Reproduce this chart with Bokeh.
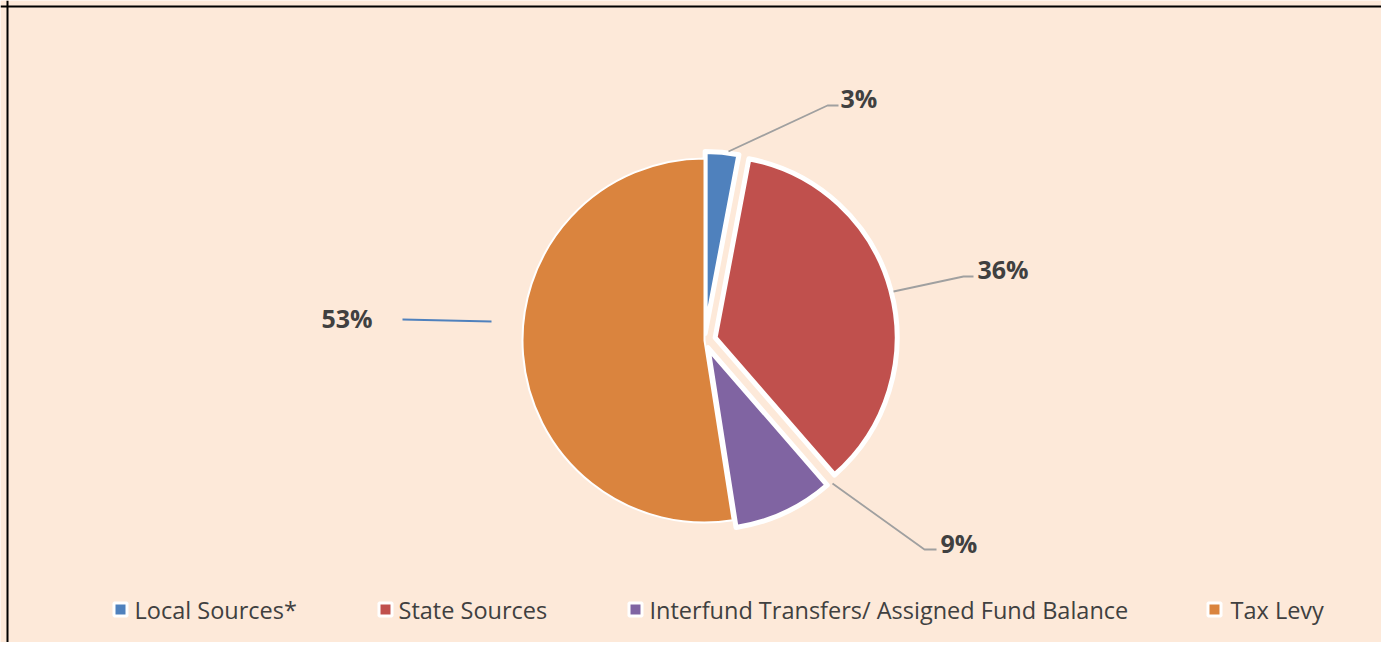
import math
from bokeh.plotting import figure
from bokeh.models import Range1d, Span, ColumnDataSource
from bokeh.core.properties import value
from bokeh.embed import file_html
from bokeh.resources import INLINE

# ---------------- data ----------------
categories = ["Local Sources*", "State Sources",
              "Interfund Transfers/ Assigned Fund Balance", "Tax Levy"]
values = [3, 36, 9, 53]
labels = ["3%", "36%", "9%", "53%"]
colors = ["#4F81BD", "#C0504D", "#8064A2", "#DA843E"]

# ---------------- layout ----------------
W, H = 1381, 642
BG = "#FDE9D9"


def px(X):
    return X


def py(Y):
    return H - Y


CX, CY, R = 704, 340, 182
explode = [7, 11, 8, 0]
edge_w = [5, 5, 5, 2]

label_x = [840, 977, 940, 321]
label_y = [97, 268, 542, 317]
leader_x = [[728, 827, 838], [893, 963, 973], [832, 924, 936], [402, 491]]
leader_y = [[151, 105, 105], [291, 276, 276], [483, 549, 549], [319, 321]]
leader_col = ["#A0A0A0", "#A0A0A0", "#A0A0A0", "#4F81BD"]

leg_sq_x = [120, 385, 635, 1214]
leg_txt_x = [134, 398, 649, 1230]
leg_y = 609

p = figure(width=W, height=H, output_backend="svg", toolbar_location=None,
           x_range=Range1d(0, W), y_range=Range1d(0, H), min_border=0)
p.axis.visible = False
p.grid.visible = False
p.outline_line_color = None
p.background_fill_color = BG
p.border_fill_color = BG

# ---------------- pie ----------------
total = float(sum(values))
cum = 0.0
wx, wy, sa, ea = [], [], [], []
for v, e in zip(values, explode):
    t1 = cum / total * 2 * math.pi
    t2 = (cum + v) / total * 2 * math.pi
    mid = (t1 + t2) / 2
    wx.append(px(CX) + math.sin(mid) * e)
    wy.append(py(CY) + math.cos(mid) * e)
    sa.append(math.pi / 2 - t2)
    ea.append(math.pi / 2 - t1)
    cum += v

src = ColumnDataSource(dict(x=wx, y=wy, sa=sa, ea=ea, c=colors, lw=edge_w, cat=categories))
p.wedge(x="x", y="y", radius=R, start_angle="sa", end_angle="ea", direction="anticlock",
        fill_color="c", line_color="white", line_width="lw", line_join="round", source=src)

# ---------------- leader lines & labels ----------------
p.multi_line(xs=[[px(a) for a in xs] for xs in leader_x],
             ys=[[py(b) for b in ys] for ys in leader_y],
             line_color=leader_col, line_width=1.8)
p.text(x=[px(a) for a in label_x], y=[py(b) for b in label_y], text=labels,
       text_font=value("Open Sans"), text_font_style="bold", text_font_size="25px",
       text_color="#404040", text_align="left", text_baseline="middle")

# ---------------- legend ----------------
p.rect(x=[px(a) for a in leg_sq_x], y=[py(leg_y)] * 4, width=13, height=13,
       fill_color=colors, line_color="white", line_width=3)
p.text(x=[px(a) for a in leg_txt_x], y=[py(leg_y)] * 4, text=categories,
       text_font=value("Open Sans"), text_font_size="23.5px",
       text_color="#404040", text_align="left", text_baseline="middle")

# ---------------- frame lines (left/top) ----------------
p.add_layout(Span(location=7, dimension="height", line_color="black", line_width=2))
p.add_layout(Span(location=H - 6, dimension="width", line_color="black", line_width=2))

open("out.html", "w").write(file_html(p, INLINE))
